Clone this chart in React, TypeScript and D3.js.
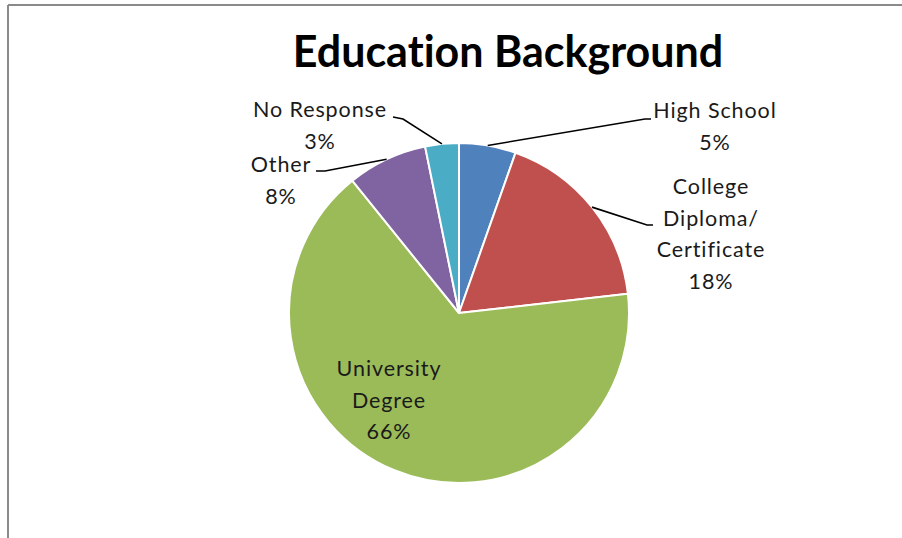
import React from "react";
import * as d3 from "d3";

const categories = ["High School", "College Diploma/ Certificate", "University Degree", "Other", "No Response"];
const values = [5.4, 17.8, 66.0, 7.6, 3.2];
const percentLabels = ["5%", "18%", "66%", "8%", "3%"];
const colors = ["#4F81BD", "#C0504D", "#9BBB59", "#8064A2", "#4BACC6"];
const labelLines = [["High School"], ["College", "Diploma/", "Certificate"], ["University", "Degree"], ["Other"], ["No Response"]];

const W = 902;
const H = 538;
const cx = 459;
const cy = 313;
const R = 170;
const FONT = "Lato, 'Open Sans', sans-serif";

// layout: label anchor (center x, first baseline y), leader elbow and end points (relative to pie center)
const layout = [
  { lx: 256, ly: -195, elbow: [186, -194], end: [192, -194] },
  { lx: 252, ly: -119, elbow: [188, -88], end: [194, -88] },
  { lx: -70, ly: 63, elbow: null, end: null },
  { lx: -178, ly: -141, elbow: [-134, -142], end: [-143, -142] },
  { lx: -139, ly: -196, elbow: [-56, -194], end: [-66, -196] },
];

export default function App() {
  const pie = d3.pie<number>().sort(null).value((d) => d)(values);
  const arc = d3.arc<d3.PieArcDatum<number>>().innerRadius(0).outerRadius(R);
  const lineH = 31.5;
  return (
    <svg width={W} height={H} style={{ position: "absolute", left: 0, top: 0, background: "#fff" }}>
      <line x1={8} y1={5} x2={W} y2={5} stroke="#8a8a8a" strokeWidth={2} />
      <line x1={8} y1={5} x2={8} y2={H} stroke="#8a8a8a" strokeWidth={2} />
      <text
        x={508}
        y={67}
        textAnchor="middle"
        fontFamily={FONT}
        fontWeight={700}
        fontSize={43}
        fill="#000"
        style={{ fontVariantLigatures: "none", fontFeatureSettings: "'liga' 0" }}
      >
        Education Background
      </text>
      <g transform={`translate(${cx},${cy})`}>
        {pie.map((p, i) => (
          <path key={i} d={arc(p) || ""} fill={colors[i]} stroke="#fff" strokeWidth={2} strokeLinejoin="round" />
        ))}
        {pie.map((p, i) => {
          const L = layout[i];
          if (!L.elbow || !L.end) return null;
          const mid = (p.startAngle + p.endAngle) / 2;
          const sx = Math.sin(mid) * R;
          const sy = -Math.cos(mid) * R;
          return (
            <polyline
              key={"l" + i}
              points={`${sx},${sy} ${L.elbow[0]},${L.elbow[1]} ${L.end[0]},${L.end[1]}`}
              fill="none"
              stroke="#000"
              strokeWidth={1.6}
            />
          );
        })}
        {pie.map((p, i) => {
          const L = layout[i];
          const lines = [...labelLines[i], percentLabels[i]];
          return (
            <text
              key={"t" + i}
              textAnchor="middle"
              fontFamily={FONT}
              fontSize={21.5}
              letterSpacing={0.9}
              fill="#1a1a1a"
              style={{ fontVariantLigatures: "none", fontFeatureSettings: "'liga' 0" }}
            >
              {lines.map((s, j) => (
                <tspan key={j} x={L.lx} y={L.ly + j * lineH}>
                  {s}
                </tspan>
              ))}
            </text>
          );
        })}
      </g>
    </svg>
  );
}
